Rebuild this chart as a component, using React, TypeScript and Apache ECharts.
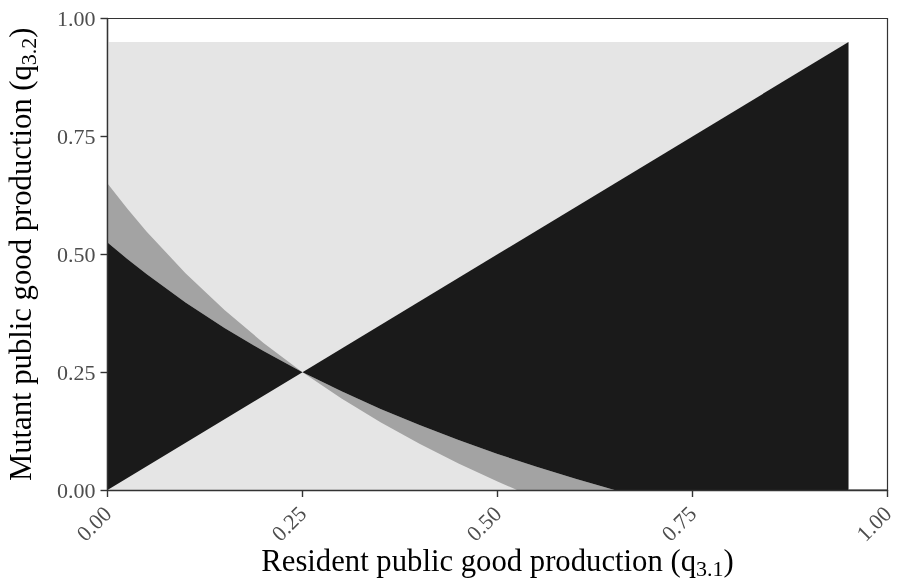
import React, { useEffect, useRef } from "react";
import * as echarts from "echarts";

const FONT = '"Liberation Serif", "Times New Roman", serif';

// Axis ticks
const tickValues = [0, 0.25, 0.5, 0.75, 1];

// Extent of the explored strategy space (both axes)
const spaceMax = 0.95;

// Inner invasion boundary (black edge): resident value -> mutant value
const innerX = [0, 0.025, 0.05, 0.1, 0.15, 0.2, 0.25, 0.3, 0.35, 0.4, 0.45, 0.5, 0.55, 0.6, 0.65];
const innerY = [0.525, 0.4905, 0.4579, 0.3977, 0.3436, 0.2946, 0.25, 0.2093, 0.172, 0.1376, 0.1059, 0.0765, 0.0492, 0.0237, 0];

// Outer invasion boundary (grey edge)
const outerX = [0, 0.025, 0.05, 0.1, 0.15, 0.2, 0.25, 0.3, 0.35, 0.4, 0.45, 0.5, 0.525];
const outerY = [0.65, 0.5974, 0.5484, 0.4597, 0.3815, 0.312, 0.25, 0.1942, 0.1438, 0.098, 0.0562, 0.018, 0];

// Singular point where both boundaries meet the diagonal
const singular = 0.25;

const COLORS = {
  space: "#e5e5e5",
  band: "#a3a3a3",
  invade: "#1a1a1a",
  axis: "#333333",
  tick: "#4d4d4d",
};

const zip = (xs: number[], ys: number[]) => xs.map((x, i) => [x, ys[i]]);

function polygonSeries(points: number[][], fill: string, z: number) {
  return {
    type: "custom",
    coordinateSystem: "cartesian2d",
    z,
    silent: true,
    data: [[0, 0]],
    renderItem: (_params: any, api: any) => ({
      type: "polygon",
      shape: { points: points.map((p) => api.coord(p)) },
      style: { fill, stroke: null },
    }),
  };
}

const titleRich = {
  t: { fontFamily: FONT, fontSize: 30.7, color: "#000", lineHeight: 31 },
  s: { fontFamily: FONT, fontSize: 22, color: "#000", lineHeight: 22, padding: [15, 0, 0, 0] },
};

export default function App() {
  const ref = useRef<HTMLDivElement>(null);

  useEffect(() => {
    if (!ref.current) return;
    const chart = echarts.init(ref.current, null, { renderer: "svg" });

    const inner = zip(innerX, innerY);
    const outer = zip(outerX, outerY);

    const spaceRect = [
      [0, 0],
      [spaceMax, 0],
      [spaceMax, spaceMax],
      [0, spaceMax],
    ];
    // grey band between the two boundaries
    const band = [...inner, ...outer.slice().reverse()];
    // black: between the diagonal and the inner boundary, left of the singular point
    const leftBlack = [[0, 0], ...inner.filter((p) => p[0] <= singular)];
    // black: right of the singular point, below the diagonal
    const rightBlack = [
      ...inner.filter((p) => p[0] >= singular),
      [spaceMax, 0],
      [spaceMax, spaceMax],
    ];

    const axisCommon = {
      type: "value",
      min: 0,
      max: 1,
      interval: 0.25,
      z: 10,
      axisLine: { show: true, onZero: false, lineStyle: { color: COLORS.axis, width: 1.4 } },
      axisTick: { show: true, length: 7, lineStyle: { color: COLORS.axis, width: 1.4 } },
      splitLine: { show: false },
      nameLocation: "middle",
      nameMoveOverlap: false,
      nameTextStyle: { rich: titleRich },
    };

    chart.setOption({
      animation: false,
      grid: {
        left: 107.5,
        right: 9.5,
        top: 18.5,
        bottom: 93,
        outerBoundsMode: "none",
        containLabel: false,
        show: true,
        borderColor: COLORS.axis,
        borderWidth: 1.2,
        backgroundColor: "#ffffff",
      },
      xAxis: {
        ...axisCommon,
        name: "{t|Resident public good production (q}{s|3.1}{t|)}",
        nameGap: 55,
        axisLabel: {
          rotate: 45,
          margin: 20,
          color: COLORS.tick,
          fontSize: 22,
          fontFamily: FONT,
          customValues: tickValues,
          formatter: (v: number) => v.toFixed(2),
        },
      },
      yAxis: {
        ...axisCommon,
        name: "{t|Mutant public good production (q}{s|3.2}{t|)}",
        nameGap: 71,
        nameRotate: 90,
        axisLabel: {
          margin: 12,
          color: COLORS.tick,
          fontSize: 22,
          fontFamily: FONT,
          formatter: (v: number) => v.toFixed(2),
        },
      },
      series: [
        polygonSeries(spaceRect, COLORS.space, 1),
        polygonSeries(band, COLORS.band, 2),
        polygonSeries(leftBlack, COLORS.invade, 3),
        polygonSeries(rightBlack, COLORS.invade, 3),
      ],
    });

    return () => chart.dispose();
  }, []);

  return (
    <div
      ref={ref}
      style={{ position: "fixed", left: 0, top: 0, width: 897, height: 583 }}
    />
  );
}
